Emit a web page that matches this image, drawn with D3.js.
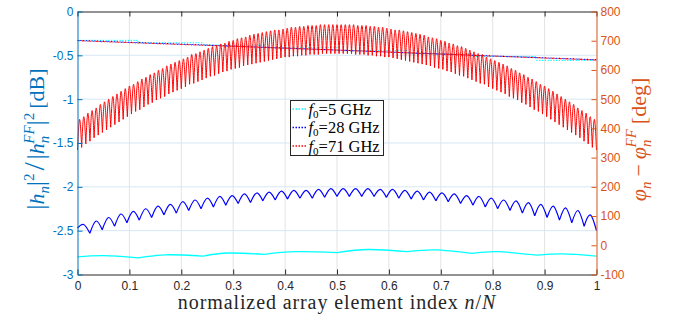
<!DOCTYPE html>
<html><head><meta charset="utf-8">
<script src="https://cdn.jsdelivr.net/npm/d3@7"></script>
<style>
html,body{margin:0;padding:0;background:#fff;}
svg{display:block;}
text{font-family:"Liberation Sans",Arial,sans-serif;}
.serif{font-family:"Liberation Serif","Times New Roman",serif;}
</style></head>
<body>
<svg id="chart" width="675" height="324"></svg>
<script>
// ---- data ----
const xTicks = [0, 0.1, 0.2, 0.3, 0.4, 0.5, 0.6, 0.7, 0.8, 0.9, 1];
const magTicks = [0, -0.5, -1, -1.5, -2, -2.5, -3];
const phaseTicks = [800, 700, 600, 500, 400, 300, 200, 100, 0, -100];
const seriesNames = ["5", "28", "71"];
const seriesColors = ["#00ffff", "#0000ff", "#ff0000"];

// f0 = 5 GHz, magnitude [dB]: ripple minima and maxima
const cyanCuspX = [0, 0.117, 0.242, 0.36, 0.5, 0.635, 0.76, 0.885, 1];
const cyanCusps = [-2.80, -2.81, -2.79, -2.77, -2.75, -2.74, -2.76, -2.78, -2.79];
const cyanPeakX = [0.05, 0.17, 0.29, 0.42, 0.56, 0.69, 0.81, 0.935];
const cyanPeaks = [-2.785, -2.775, -2.755, -2.74, -2.715, -2.72, -2.74, -2.765];

// f0 = 28 GHz, magnitude [dB]: one minimum per element group, maxima between
const blueCusps = [-2.47,-2.53,-2.49,-2.45,-2.41,-2.38,-2.35,-2.32,-2.30,-2.27,
  -2.25,-2.23,-2.21,-2.19,-2.18,-2.16,-2.15,-2.14,-2.13,-2.13,
  -2.12,-2.11,-2.11,-2.11,-2.11,-2.12,-2.13,-2.14,-2.15,-2.16,
  -2.17,-2.19,-2.21,-2.23,-2.25,-2.27,-2.30,-2.33,-2.35,-2.38,
  -2.41,-2.45,-2.50];
const bluePeaks = [-2.43,-2.39,-2.35,-2.31,-2.28,-2.25,-2.22,-2.20,-2.17,-2.15,
  -2.13,-2.11,-2.10,-2.08,-2.07,-2.06,-2.05,-2.04,-2.04,-2.03,
  -2.02,-2.02,-2.02,-2.02,-2.03,-2.03,-2.04,-2.05,-2.06,-2.07,
  -2.08,-2.10,-2.11,-2.13,-2.15,-2.16,-2.18,-2.20,-2.22,-2.24,
  -2.27,-2.32];

// f0 = 71 GHz, magnitude [dB]
const redTroughs = [-1.58,-1.55,-1.51,-1.48,-1.44,-1.41,-1.38,-1.35,-1.32,-1.29,
  -1.26,-1.23,-1.20,-1.17,-1.14,-1.12,-1.09,-1.06,-1.04,-1.01,
  -0.99,-0.97,-0.94,-0.92,-0.90,-0.88,-0.86,-0.83,-0.82,-0.80,
  -0.78,-0.76,-0.74,-0.73,-0.71,-0.69,-0.68,-0.66,-0.65,-0.64,
  -0.62,-0.61,-0.60,-0.59,-0.58,-0.57,-0.56,-0.55,-0.54,-0.53,
  -0.52,-0.52,-0.51,-0.51,-0.50,-0.50,-0.49,-0.49,-0.49,-0.48,
  -0.48,-0.48,-0.48,
  -0.48,-0.48,-0.48,-0.48,-0.49,-0.49,-0.49,-0.50,-0.50,-0.51,
  -0.51,-0.52,-0.52,-0.53,-0.54,-0.55,-0.56,-0.57,-0.58,-0.59,
  -0.60,-0.61,-0.62,-0.64,-0.65,-0.66,-0.68,-0.69,-0.71,-0.73,
  -0.74,-0.76,-0.78,-0.80,-0.82,-0.83,-0.86,-0.88,-0.90,-0.92,
  -0.94,-0.97,-0.99,-1.01,-1.04,-1.06,-1.09,-1.12,-1.14,-1.17,
  -1.20,-1.23,-1.26,-1.29,-1.32,-1.35,-1.38,-1.41,-1.44,-1.48,
  -1.51,-1.55,-1.58];
const redPeaks = [-1.23,-1.20,-1.16,-1.13,-1.10,-1.06,-1.03,-1.00,-0.97,-0.94,
  -0.91,-0.88,-0.85,-0.83,-0.80,-0.77,-0.75,-0.72,-0.70,-0.67,
  -0.65,-0.62,-0.60,-0.58,-0.56,-0.54,-0.52,-0.49,-0.48,-0.46,
  -0.44,-0.42,-0.40,-0.39,-0.37,-0.36,-0.34,-0.33,-0.31,-0.30,
  -0.29,-0.27,-0.26,-0.25,-0.24,-0.23,-0.22,-0.21,-0.21,-0.20,
  -0.19,-0.18,-0.18,-0.17,-0.17,-0.16,-0.16,-0.16,-0.15,-0.15,
  -0.15,-0.15,-0.15,
  -0.15,-0.15,-0.15,-0.15,-0.16,-0.16,-0.16,-0.17,-0.17,-0.18,
  -0.18,-0.19,-0.20,-0.21,-0.21,-0.22,-0.23,-0.24,-0.25,-0.26,
  -0.27,-0.29,-0.30,-0.31,-0.33,-0.34,-0.36,-0.37,-0.39,-0.40,
  -0.42,-0.44,-0.46,-0.48,-0.49,-0.52,-0.54,-0.56,-0.58,-0.60,
  -0.62,-0.65,-0.67,-0.70,-0.72,-0.75,-0.77,-0.80,-0.83,-0.85,
  -0.88,-0.91,-0.94,-0.97,-1.00,-1.03,-1.06,-1.10,-1.13,-1.16,
  -1.20,-1.23];

// phase difference [deg]
const phaseX = [0, 0.25, 0.5, 0.75, 1];
const bluePhase = [701, 685, 668, 651, 635];
const redPhase = [700, 684, 668, 651, 634];
const cyanPhaseEdges = [0, 0.117, 0.242, 0.36, 0.5, 0.635, 0.76, 0.885, 1];
const cyanPhase = [701, 693, 685, 676, 666, 656, 646, 633, 633];

// ---- layout ----
const colL = "#0072BD", colR = "#D95319", colK = "#262626";
const svg = d3.select("#chart");
const x = d3.scaleLinear().domain([0, 1]).range([77.5, 596.5]);
const yL = d3.scaleLinear().domain([-3, 0]).range([274.5, 11.5]);
const yR = d3.scaleLinear().domain([-100, 800]).range([274.5, 11.5]);

// grid
const grid = svg.append("g");
grid.selectAll("line.gx").data(xTicks.slice(1, -1)).join("line")
  .attr("x1", d => x(d)).attr("x2", d => x(d))
  .attr("y1", yL(0)).attr("y2", yL(-3))
  .attr("stroke", "#e3e3e3").attr("stroke-width", 1);
grid.selectAll("line.gy").data(magTicks.slice(1, -1)).join("line")
  .attr("x1", x(0)).attr("x2", x(1))
  .attr("y1", d => yL(d)).attr("y2", d => yL(d))
  .attr("stroke", "#d6e8f4").attr("stroke-width", 1);

// scalloped curve: each lobe through minimum, maximum, minimum
function scallops(cx, cy, px, py, yScale) {
  const line = d3.line().x(d => x(d[0])).y(d => yScale(d[1])).curve(d3.curveNatural);
  let d = "";
  for (let i = 0; i < py.length; i++) {
    d += line([[cx[i], cy[i]], [px[i], py[i]], [cx[i + 1], cy[i + 1]]]);
  }
  return d;
}

const plot = svg.append("g");
const dotted = "1.2 1.6";

// phase curves (right axis)
const phaseLine = d3.line().x(d => x(d[0])).y(d => yR(d[1]));
plot.append("path")
  .attr("d", d3.line().x(d => x(d[0])).y(d => yR(d[1])).curve(d3.curveStepAfter)(cyanPhaseEdges.map((e, i) => [e, cyanPhase[i]])))
  .attr("fill", "none").attr("stroke", seriesColors[0]).attr("stroke-width", 1.2).attr("stroke-dasharray", dotted);
plot.append("path").attr("d", phaseLine(phaseX.map((e, i) => [e, bluePhase[i]])))
  .attr("fill", "none").attr("stroke", seriesColors[1]).attr("stroke-width", 1.1).attr("stroke-dasharray", dotted);
plot.append("path").attr("d", phaseLine(phaseX.map((e, i) => [e, redPhase[i]])))
  .attr("fill", "none").attr("stroke", seriesColors[2]).attr("stroke-width", 1.1).attr("stroke-dasharray", dotted)
  .attr("stroke-dashoffset", 1.4);

// magnitude curves (left axis)
plot.append("path").attr("d", scallops(cyanCuspX, cyanCusps, cyanPeakX, cyanPeaks, yL))
  .attr("fill", "none").attr("stroke", seriesColors[0]).attr("stroke-width", 1.3);
const nB = bluePeaks.length;
plot.append("path").attr("d", scallops(blueCusps.map((v, i) => i / nB), blueCusps,
    bluePeaks.map((v, i) => (i + 0.5) / nB), bluePeaks, yL))
  .attr("fill", "none").attr("stroke", seriesColors[1]).attr("stroke-width", 1.2);
const nR = redPeaks.length;
plot.append("path").attr("d", scallops(redTroughs.map((v, i) => i / nR), redTroughs,
    redPeaks.map((v, i) => (i + 0.5) / nR), redPeaks, yL))
  .attr("fill", "none").attr("stroke", seriesColors[2]).attr("stroke-width", 1);

// axes
const tick = 5;
const sans = '"Liberation Sans",Arial,sans-serif';
const axB = svg.append("g").attr("transform", `translate(0,${yL(-3)})`)
  .call(d3.axisBottom(x).tickValues(xTicks).tickSize(-tick).tickSizeOuter(0).tickPadding(6.5).tickFormat(d => String(d)));
const axT = svg.append("g").attr("transform", `translate(0,${yL(0)})`)
  .call(d3.axisTop(x).tickValues(xTicks).tickSize(-tick).tickSizeOuter(0).tickFormat(""));
[axB, axT].forEach(a => {
  a.selectAll("path,line").attr("stroke", colK);
  a.selectAll("text").attr("fill", colK).style("font-size", "12px").style("font-family", sans);
});
const axL = svg.append("g").attr("transform", `translate(${x(0)},0)`)
  .call(d3.axisLeft(yL).tickValues(magTicks).tickSize(-tick).tickSizeOuter(0).tickPadding(4).tickFormat(d => String(d)));
axL.selectAll("path,line").attr("stroke", colL);
axL.selectAll("text").attr("fill", colL).style("font-size", "12px").style("font-family", sans);
const axR = svg.append("g").attr("transform", `translate(${x(1)},0)`)
  .call(d3.axisRight(yR).tickValues(phaseTicks).tickSize(-tick).tickSizeOuter(0).tickPadding(4).tickFormat(d => String(d)));
axR.selectAll("path,line").attr("stroke", colR);
axR.selectAll("text").attr("fill", colR).style("font-size", "12px").style("font-family", sans);
svg.selectAll(".domain").attr("stroke-width", 1);

// centre a text (with sub/superscript tspans) on its own origin
function centre(t) {
  const w = t.node().getComputedTextLength();
  t.attr("x", -w / 2);
}

// axis titles
const xl = svg.append("text").attr("class", "serif").attr("x", 337).attr("y", 309)
  .attr("text-anchor", "middle").attr("fill", colK)
  .style("font-size", "20px").style("letter-spacing", "0.9px");
xl.append("tspan").text("normalized array element index ");
xl.append("tspan").attr("font-style", "italic").text("n");
xl.append("tspan").text("/");
xl.append("tspan").attr("font-style", "italic").text("N");

const ylg = svg.append("g").attr("transform", "translate(44,140) rotate(-90)");
const yl = ylg.append("text").attr("class", "serif").attr("fill", colL).style("font-size", "22px");
yl.append("tspan").attr("font-size", "25px").text("|");
yl.append("tspan").attr("font-style", "italic").text("h");
yl.append("tspan").attr("font-style", "italic").attr("font-size", "15px").attr("dy", 5).text("n");
yl.append("tspan").attr("font-size", "25px").attr("dy", -5).text("|");
yl.append("tspan").attr("font-size", "15px").attr("dy", -10).text("2");
yl.append("tspan").attr("dy", 10).attr("font-size", "30px").attr("dx", 3).text("/");
yl.append("tspan").attr("font-size", "25px").attr("dx", 3).text("|");
yl.append("tspan").attr("font-style", "italic").text("h");
yl.append("tspan").attr("font-style", "italic").attr("font-size", "15px").attr("dy", 5).text("n");
yl.append("tspan").attr("font-style", "italic").attr("font-size", "15px").attr("dx", -8).attr("dy", -15).text("FF");
yl.append("tspan").attr("font-size", "25px").attr("dy", 10).text("|");
yl.append("tspan").attr("font-size", "15px").attr("dy", -10).text("2");
yl.append("tspan").attr("dy", 10).attr("dx", 4).text("[dB]");
centre(yl);

const yrg = svg.append("g").attr("transform", "translate(646,143) rotate(-90)");
const yr = yrg.append("text").attr("class", "serif").attr("fill", colR).style("font-size", "22px");
yr.append("tspan").attr("font-style", "italic").text("φ");
yr.append("tspan").attr("font-style", "italic").attr("font-size", "15px").attr("dy", 5).text("n");
yr.append("tspan").attr("dy", -5).attr("dx", 5).text("−");
yr.append("tspan").attr("font-style", "italic").attr("dx", 5).text("φ");
yr.append("tspan").attr("font-style", "italic").attr("font-size", "15px").attr("dy", 5).text("n");
yr.append("tspan").attr("font-style", "italic").attr("font-size", "15px").attr("dx", -8).attr("dy", -15).text("FF");
yr.append("tspan").attr("dy", 10).attr("dx", 5).text("[deg]");
centre(yr);

// legend
const lg = svg.append("g").attr("transform", "translate(290.5,100.5)");
lg.append("rect").attr("width", 93).attr("height", 55).attr("fill", "#fff")
  .attr("stroke", colK).attr("stroke-width", 1);
seriesNames.forEach((name, i) => {
  const yy = 8.5 + i * 18.5;
  lg.append("line").attr("x1", 2).attr("x2", 16).attr("y1", yy).attr("y2", yy)
    .attr("stroke", seriesColors[i]).attr("stroke-width", 1.5).attr("stroke-dasharray", "1.5 1.5");
  const t = lg.append("text").attr("class", "serif").attr("x", 18).attr("y", yy + 5.5)
    .attr("fill", "#000").style("font-size", "16.5px");
  t.append("tspan").attr("font-style", "italic").text("f");
  t.append("tspan").attr("font-size", "11px").attr("dy", 3).text("0");
  t.append("tspan").attr("dy", -3).text("=" + name + " GHz");
});
</script>
</body></html>
